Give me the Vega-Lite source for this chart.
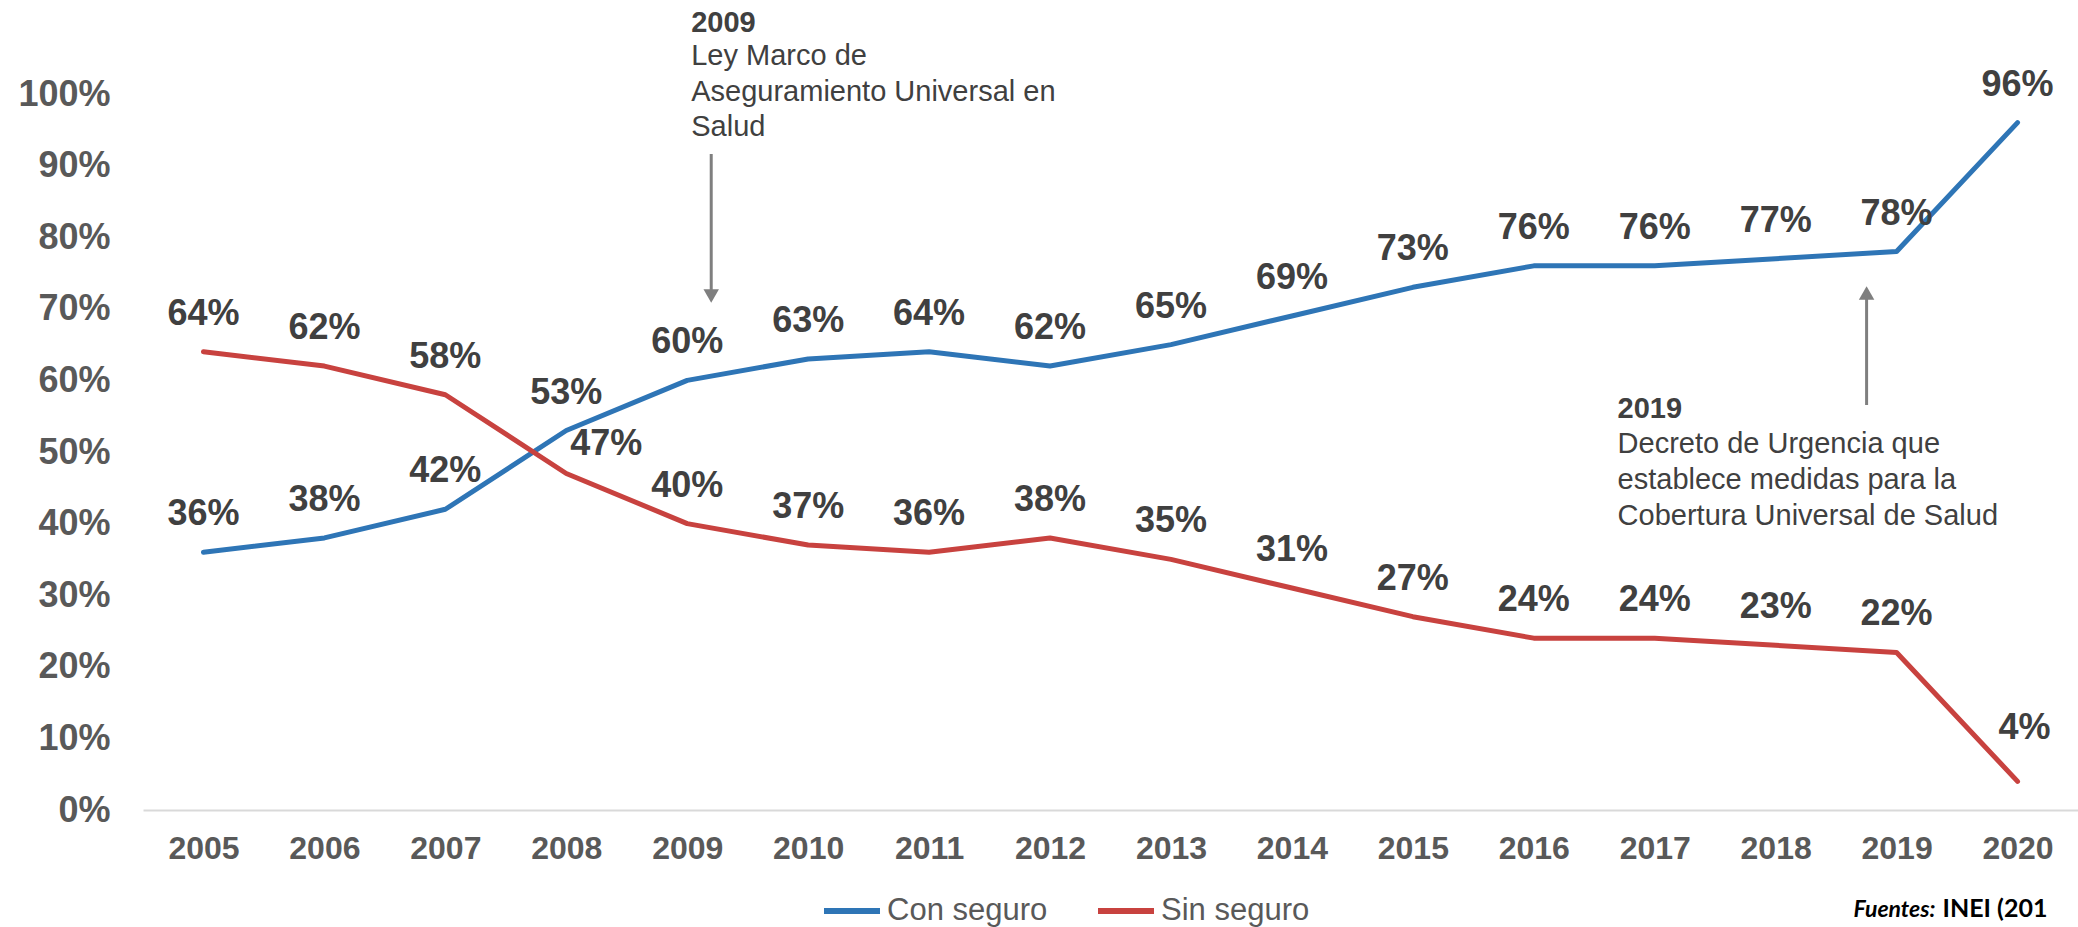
{
  "$schema": "https://vega.github.io/schema/vega-lite/v6.json",
  "width": 1935,
  "height": 716,
  "autosize": {"type": "none"},
  "padding": {"left": 143, "top": 94, "right": 0, "bottom": 117},
  "background": "white",
  "config": {"view": {"stroke": null}, "font": "Liberation Sans"},
  "datasets": {
    "main": [
      {"year": "2005", "serie": "Con seguro", "value": 0.36},
      {"year": "2006", "serie": "Con seguro", "value": 0.38},
      {"year": "2007", "serie": "Con seguro", "value": 0.42},
      {"year": "2008", "serie": "Con seguro", "value": 0.53},
      {"year": "2009", "serie": "Con seguro", "value": 0.60},
      {"year": "2010", "serie": "Con seguro", "value": 0.63},
      {"year": "2011", "serie": "Con seguro", "value": 0.64},
      {"year": "2012", "serie": "Con seguro", "value": 0.62},
      {"year": "2013", "serie": "Con seguro", "value": 0.65},
      {"year": "2014", "serie": "Con seguro", "value": 0.69},
      {"year": "2015", "serie": "Con seguro", "value": 0.73},
      {"year": "2016", "serie": "Con seguro", "value": 0.76},
      {"year": "2017", "serie": "Con seguro", "value": 0.76},
      {"year": "2018", "serie": "Con seguro", "value": 0.77},
      {"year": "2019", "serie": "Con seguro", "value": 0.78},
      {"year": "2020", "serie": "Con seguro", "value": 0.96},
      {"year": "2005", "serie": "Sin seguro", "value": 0.64},
      {"year": "2006", "serie": "Sin seguro", "value": 0.62},
      {"year": "2007", "serie": "Sin seguro", "value": 0.58},
      {"year": "2008", "serie": "Sin seguro", "value": 0.47},
      {"year": "2009", "serie": "Sin seguro", "value": 0.40},
      {"year": "2010", "serie": "Sin seguro", "value": 0.37},
      {"year": "2011", "serie": "Sin seguro", "value": 0.36},
      {"year": "2012", "serie": "Sin seguro", "value": 0.38},
      {"year": "2013", "serie": "Sin seguro", "value": 0.35},
      {"year": "2014", "serie": "Sin seguro", "value": 0.31},
      {"year": "2015", "serie": "Sin seguro", "value": 0.27},
      {"year": "2016", "serie": "Sin seguro", "value": 0.24},
      {"year": "2017", "serie": "Sin seguro", "value": 0.24},
      {"year": "2018", "serie": "Sin seguro", "value": 0.23},
      {"year": "2019", "serie": "Sin seguro", "value": 0.22},
      {"year": "2020", "serie": "Sin seguro", "value": 0.04}
    ]
  },
  "layer": [
    {
      "data": {"name": "main"},
      "mark": {"type": "line", "strokeWidth": 5, "strokeJoin": "round", "strokeCap": "round"},
      "encoding": {
        "x": {
          "field": "year", "type": "ordinal",
          "scale": {"type": "point", "padding": 0.5},
          "axis": {
            "title": null, "labelAngle": 0, "ticks": false,
            "domain": true, "domainColor": "#d9d9d9", "domainWidth": 2,
            "labelFont": "Liberation Sans", "labelFontSize": 32, "labelFontWeight": "bold",
            "labelColor": "#595959", "labelPadding": 23
          }
        },
        "y": {
          "field": "value", "type": "quantitative",
          "scale": {"domain": [0, 1], "nice": false},
          "axis": {
            "title": null, "values": [0, 0.1, 0.2, 0.3, 0.4, 0.5, 0.6, 0.7, 0.8, 0.9, 1],
            "format": ".0%", "domain": false, "ticks": false, "grid": false,
            "labelFont": "Liberation Sans", "labelFontSize": 36, "labelFontWeight": "bold",
            "labelColor": "#595959", "labelPadding": 33
          }
        },
        "color": {
          "field": "serie", "type": "nominal",
          "scale": {"domain": ["Con seguro", "Sin seguro"], "range": ["#2e75b6", "#c8423f"]},
          "legend": {
            "orient": "none", "legendX": 678, "legendY": 786, "direction": "horizontal",
            "title": null, "symbolType": "stroke", "symbolSize": 3136, "symbolStrokeWidth": 6,
            "labelFont": "Liberation Sans", "labelFontSize": 31, "labelColor": "#595959",
            "labelOffset": 4, "labelLimit": 400, "columnPadding": 38, "padding": 0
          }
        }
      }
    },
    {
      "data": {"name": "main"},
      "transform": [{"filter": "!((datum.year == '2008' && datum.serie == 'Sin seguro') || (datum.year == '2020' && datum.serie == 'Sin seguro'))"}],
      "mark": {"type": "text", "dy": -38, "baseline": "middle", "align": "center", "fontSize": 36, "fontWeight": "bold", "color": "#404040", "font": "Liberation Sans"},
      "encoding": {
        "x": {"field": "year", "type": "ordinal"},
        "y": {"field": "value", "type": "quantitative"},
        "text": {"field": "value", "type": "quantitative", "format": ".0%"}
      }
    },
    {
      "data": {"name": "main"},
      "transform": [{"filter": "datum.year == '2008' && datum.serie == 'Sin seguro'"}],
      "mark": {"type": "text", "dx": 40, "dy": -29, "baseline": "middle", "align": "center", "fontSize": 36, "fontWeight": "bold", "color": "#404040", "font": "Liberation Sans"},
      "encoding": {
        "x": {"field": "year", "type": "ordinal"},
        "y": {"field": "value", "type": "quantitative"},
        "text": {"field": "value", "type": "quantitative", "format": ".0%"}
      }
    },
    {
      "data": {"name": "main"},
      "transform": [{"filter": "datum.year == '2020' && datum.serie == 'Sin seguro'"}],
      "mark": {"type": "text", "dx": 7, "dy": -53, "baseline": "middle", "align": "center", "fontSize": 36, "fontWeight": "bold", "color": "#404040", "font": "Liberation Sans"},
      "encoding": {
        "x": {"field": "year", "type": "ordinal"},
        "y": {"field": "value", "type": "quantitative"},
        "text": {"field": "value", "type": "quantitative", "format": ".0%"}
      }
    },
    {
      "data": {"values": [{"year": "2009", "y1": 0.9162, "y2": 0.7263}]},
      "mark": {"type": "rule", "xOffset": 24, "color": "#7f7f7f", "strokeWidth": 3},
      "encoding": {
        "x": {"field": "year", "type": "ordinal"},
        "y": {"field": "y1", "type": "quantitative"},
        "y2": {"field": "y2"}
      }
    },
    {
      "data": {"values": [{"year": "2009", "v": 0.7179}]},
      "mark": {"type": "point", "shape": "triangle-down", "filled": true, "size": 240, "xOffset": 24, "color": "#7f7f7f", "opacity": 1},
      "encoding": {
        "x": {"field": "year", "type": "ordinal"},
        "y": {"field": "v", "type": "quantitative"}
      }
    },
    {
      "data": {"values": [{"year": "2019", "y1": 0.5656, "y2": 0.7151}]},
      "mark": {"type": "rule", "xOffset": -30, "color": "#7f7f7f", "strokeWidth": 3},
      "encoding": {
        "x": {"field": "year", "type": "ordinal"},
        "y": {"field": "y1", "type": "quantitative"},
        "y2": {"field": "y2"}
      }
    },
    {
      "data": {"values": [{"year": "2019", "v": 0.7221}]},
      "mark": {"type": "point", "shape": "triangle-up", "filled": true, "size": 240, "xOffset": -30, "color": "#7f7f7f", "opacity": 1},
      "encoding": {
        "x": {"field": "year", "type": "ordinal"},
        "y": {"field": "v", "type": "quantitative"}
      }
    },
    {
      "data": {"values": [{"year": "2009", "v": 1.0866, "t": "2009"}]},
      "mark": {"type": "text", "dx": 4, "align": "left", "baseline": "alphabetic", "fontSize": 29, "fontWeight": "bold", "color": "#404040", "font": "Liberation Sans"},
      "encoding": {
        "x": {"field": "year", "type": "ordinal"},
        "y": {"field": "v", "type": "quantitative"},
        "text": {"field": "t"}
      }
    },
    {
      "data": {"values": [{"year": "2009", "v": 1.0405, "t": ["Ley Marco de", "Aseguramiento Universal en", "Salud"]}]},
      "mark": {"type": "text", "dx": 4, "align": "left", "baseline": "alphabetic", "lineHeight": 35.5, "fontSize": 29, "color": "#404040", "font": "Liberation Sans"},
      "encoding": {
        "x": {"field": "year", "type": "ordinal"},
        "y": {"field": "v", "type": "quantitative"},
        "text": {"field": "t"}
      }
    },
    {
      "data": {"values": [{"year": "2019", "v": 0.5475, "t": "2019"}]},
      "mark": {"type": "text", "dx": -279, "align": "left", "baseline": "alphabetic", "fontSize": 29, "fontWeight": "bold", "color": "#404040", "font": "Liberation Sans"},
      "encoding": {
        "x": {"field": "year", "type": "ordinal"},
        "y": {"field": "v", "type": "quantitative"},
        "text": {"field": "t"}
      }
    },
    {
      "data": {"values": [{"year": "2019", "v": 0.4986, "t": ["Decreto de Urgencia que", "establece medidas para la", "Cobertura Universal de Salud"]}]},
      "mark": {"type": "text", "dx": -279, "align": "left", "baseline": "alphabetic", "lineHeight": 36, "fontSize": 29, "color": "#404040", "font": "Liberation Sans"},
      "encoding": {
        "x": {"field": "year", "type": "ordinal"},
        "y": {"field": "v", "type": "quantitative"},
        "text": {"field": "t"}
      }
    },
    {
      "data": {"values": [{"year": "2020", "v": -0.1494, "t": "Fuentes:"}]},
      "mark": {"type": "text", "dx": -82, "align": "right", "baseline": "alphabetic", "fontSize": 23, "fontWeight": "bold", "fontStyle": "italic", "color": "#000000", "font": "Lato"},
      "encoding": {
        "x": {"field": "year", "type": "ordinal"},
        "y": {"field": "v", "type": "quantitative"},
        "text": {"field": "t"}
      }
    },
    {
      "data": {"values": [{"year": "2020", "v": -0.1494, "t": "INEI (201"}]},
      "mark": {"type": "text", "dx": -75, "align": "left", "baseline": "alphabetic", "fontSize": 25, "fontWeight": "bold", "color": "#000000", "font": "Lato"},
      "encoding": {
        "x": {"field": "year", "type": "ordinal"},
        "y": {"field": "v", "type": "quantitative"},
        "text": {"field": "t"}
      }
    }
  ]
}
